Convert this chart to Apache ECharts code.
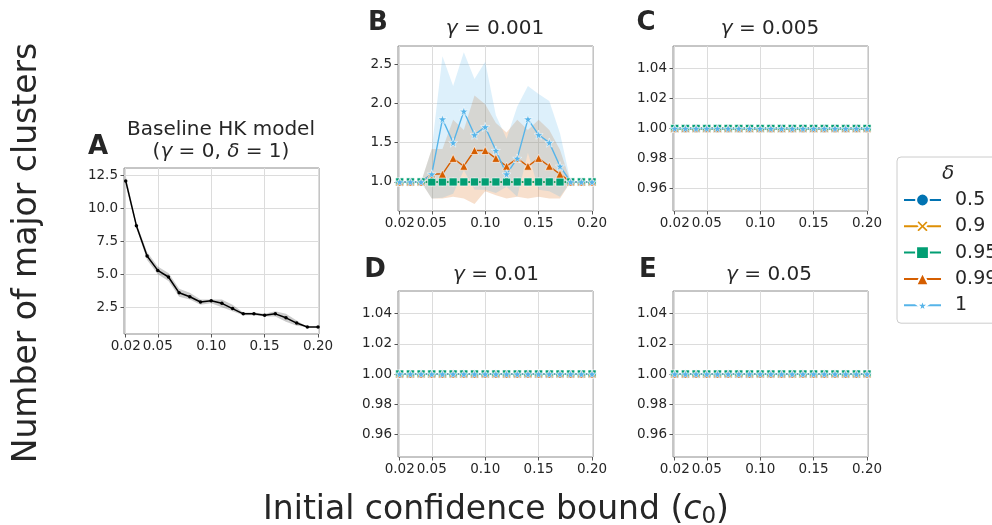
<!DOCTYPE html>
<html>
<head>
<meta charset="utf-8">
<script src="https://cdn.jsdelivr.net/npm/echarts@6/dist/echarts.min.js"></script>
<style>
  html, body { margin: 0; padding: 0; background: #fff; }
  #main { width: 992px; height: 525px; }
</style>
</head>
<body>
<div id="main"></div>
<script>
(function () {
    // x values: initial confidence bound c0
    var cValues = [0.02, 0.03, 0.04, 0.05, 0.06, 0.07, 0.08, 0.09, 0.10, 0.11,
                   0.12, 0.13, 0.14, 0.15, 0.16, 0.17, 0.18, 0.19, 0.20];
    var xTicks = [0.02, 0.05, 0.10, 0.15, 0.20];

    // panel A - baseline HK model
    var baselineMean = [12.1, 8.7, 6.4, 5.3, 4.8, 3.6, 3.3, 2.9, 3.0, 2.8, 2.4, 2.0, 2.0, 1.9, 2.0, 1.7, 1.3, 1.0, 1.0];
    var baselineLow  = [11.8, 8.5, 6.1, 5.0, 4.5, 3.3, 3.1, 2.7, 2.8, 2.5, 2.2, 1.9, 1.9, 1.8, 1.8, 1.4, 1.1, 1.0, 1.0];
    var baselineHigh = [12.5, 8.9, 6.7, 5.6, 5.1, 3.9, 3.6, 3.1, 3.1, 3.1, 2.7, 2.1, 2.1, 2.0, 2.2, 2.0, 1.5, 1.0, 1.0];
    var yTicksA = [2.5, 5.0, 7.5, 10.0, 12.5];

    // panel B - gamma = 0.001
    var gB_d099 = [1, 1, 1, 1.1, 1.1, 1.3, 1.2, 1.4, 1.4, 1.3, 1.2, 1.3, 1.2, 1.3, 1.2, 1.1, 1, 1, 1];
    var gB_d1   = [1, 1, 1, 1.1, 1.8, 1.5, 1.9, 1.6, 1.7, 1.4, 1.1, 1.3, 1.8, 1.6, 1.5, 1.2, 1, 1, 1];
    var gB_d099Low  = [1, 1, 1, 0.79, 0.79, 0.81, 0.79, 0.72, 0.88, 0.83, 0.79, 0.81, 0.79, 0.81, 0.79, 0.79, 1, 1, 1];
    var gB_d099High = [1, 1, 1, 1.42, 1.42, 1.79, 1.66, 2.10, 1.99, 1.75, 1.63, 1.79, 1.66, 1.79, 1.66, 1.41, 1, 1, 1];
    var gB_d1Low  = [1, 1, 1, 0.79, 0.80, 0.85, 1.15, 0.90, 0.90, 0.86, 0.94, 0.81, 1.37, 0.90, 0.88, 0.81, 1, 1, 1];
    var gB_d1High = [1, 1, 1, 1.42, 2.60, 2.22, 2.65, 2.31, 2.53, 1.85, 1.55, 1.96, 2.22, 2.12, 2.03, 1.62, 1, 1, 1];
    var yTicksB = [1.0, 1.5, 2.0, 2.5];

    // every delta sits at 1 cluster (and gamma=0.001 for delta<=0.95)
    var flatOnes = [1, 1, 1, 1, 1, 1, 1, 1, 1, 1, 1, 1, 1, 1, 1, 1, 1, 1, 1];
    var yTicksFlat = [0.96, 0.98, 1.00, 1.02, 1.04];

    var deltaNames = ['0.5', '0.9', '0.95', '0.99', '1'];
    var deltaColors = ['#0173b2', '#de8f05', '#029e73', '#d55e00', '#56b4e9'];
    var deltaSymbols = [
        'circle',
        'path://M0,20 L20,0 L50,30 L80,0 L100,20 L70,50 L100,80 L80,100 L50,70 L20,100 L0,80 L30,50 Z',
        'rect',
        'triangle',
        'path://M50,0 L61,35 L98,35 L68,57 L79,91 L50,70 L21,91 L32,57 L2,35 L39,35 Z'
    ];
    var deltaSizes = [8, 7, 8, 8, 9];

    var font = 'DejaVu Sans';
    var txt = '#262626';

    var grids = [
        { left: 124, top: 168, width: 195, height: 166 },  // A
        { left: 398, top: 46, width: 195, height: 165 },   // B
        { left: 673, top: 46, width: 195, height: 165 },   // C
        { left: 398, top: 291, width: 195, height: 166 },  // D
        { left: 673, top: 291, width: 195, height: 166 }   // E
    ];
    grids.forEach(function (g) {
        g.show = true;
        g.borderColor = '#8c8c8c';
        g.borderWidth = 1;
        g.backgroundColor = '#fff';
    });

    function pairs(arr) {
        return cValues.map(function (x, i) { return [x, arr[i]]; });
    }

    var xAxes = grids.map(function (g, gi) {
        return {
            type: 'value', gridIndex: gi, min: 0.0184, max: 0.2009,
            axisLine: { show: false },
            axisTick: { show: true, customValues: xTicks, length: 3.5, lineStyle: { color: '#555' } },
            axisLabel: {
                customValues: xTicks, color: txt, fontSize: 13.5, fontFamily: font, margin: 5,
                formatter: function (v) { return v.toFixed(2); }
            },
            splitLine: { show: true, lineStyle: { color: '#dcdcdc' } }
        };
    });

    function yAxis(gi, min, max, ticks, digits) {
        return {
            type: 'value', gridIndex: gi, min: min, max: max,
            axisLine: { show: false },
            axisTick: { show: true, customValues: ticks, length: 3.5, lineStyle: { color: '#555' } },
            axisLabel: {
                customValues: ticks, color: txt, fontSize: 13.5, fontFamily: font, margin: 6,
                formatter: function (v) { return v.toFixed(digits); }
            },
            splitLine: { show: true, lineStyle: { color: '#dcdcdc' } }
        };
    }
    var yAxes = [
        yAxis(0, 0.47, 13.08, yTicksA, 1),
        yAxis(1, 0.63, 2.73, yTicksB, 1),
        yAxis(2, 0.945, 1.055, yTicksFlat, 2),
        yAxis(3, 0.945, 1.055, yTicksFlat, 2),
        yAxis(4, 0.945, 1.055, yTicksFlat, 2)
    ];

    // confidence band polygon drawn through the axis scale
    function band(gi, lo, hi, color) {
        return {
            type: 'custom', name: 'band', xAxisIndex: gi, yAxisIndex: gi, silent: true, z: 1,
            data: cValues.map(function (x, i) { return [x, lo[i], hi[i]]; }),
            encode: { x: 0, y: [1, 2] },
            renderItem: function (params, api) {
                if (params.dataIndex !== 0) return null;
                var pts = [];
                for (var i = 0; i < cValues.length; i++) pts.push(api.coord([cValues[i], hi[i]]));
                for (var j = cValues.length - 1; j >= 0; j--) pts.push(api.coord([cValues[j], lo[j]]));
                return { type: 'polygon', shape: { points: pts }, style: { fill: color, opacity: 0.2 } };
            }
        };
    }

    function deltaLine(gi, k, values) {
        return {
            type: 'line', name: deltaNames[k], xAxisIndex: gi, yAxisIndex: gi, z: 3,
            data: pairs(values),
            symbol: deltaSymbols[k], symbolSize: deltaSizes[k], showAllSymbol: true,
            lineStyle: { color: deltaColors[k], width: 1.4 },
            itemStyle: { color: deltaColors[k], borderColor: '#fff', borderWidth: 0.6 },
            animation: false
        };
    }

    var series = [];
    // panel A
    series.push(band(0, baselineLow, baselineHigh, '#000'));
    series.push({
        type: 'line', name: 'baseline', xAxisIndex: 0, yAxisIndex: 0, z: 3,
        data: pairs(baselineMean), symbol: 'circle', symbolSize: 3.5,
        lineStyle: { color: '#000', width: 1.5 }, itemStyle: { color: '#000' }, animation: false
    });
    // panel B
    series.push(band(1, gB_d099Low, gB_d099High, '#d55e00'));
    series.push(band(1, gB_d1Low, gB_d1High, '#56b4e9'));
    series.push(deltaLine(1, 0, flatOnes));
    series.push(deltaLine(1, 1, flatOnes));
    series.push(deltaLine(1, 2, flatOnes));
    series.push(deltaLine(1, 3, gB_d099));
    series.push(deltaLine(1, 4, gB_d1));
    // panels C, D, E
    [2, 3, 4].forEach(function (gi) {
        for (var k = 0; k < 5; k++) series.push(deltaLine(gi, k, flatOnes));
    });

    function label(x, y, text, size, extra) {
        var s = { text: text, x: 0, y: 0, align: 'center', verticalAlign: 'middle',
                  fill: txt, fontSize: size, fontFamily: font,
                  rich: {
                      i: { fontStyle: 'italic', fontSize: size, fontFamily: font, fill: txt },
                      s: { fontSize: Math.round(size * 0.7), fontFamily: font, fill: txt, padding: [Math.round(size * 0.45), 0, 0, 0] }
                  } };
        for (var key in (extra || {})) s[key] = extra[key];
        return { type: 'text', x: x, y: y, style: s, z: 10 };
    }

    var graphics = [
        label(221, 130, 'Baseline HK model', 20),
        label(221, 152, '({i|γ} = 0, {i|δ} = 1)', 20),
        label(495, 29, '{i|γ} = 0.001', 20),
        label(770, 29, '{i|γ} = 0.005', 20),
        label(496, 275, '{i|γ} = 0.01', 20),
        label(769, 275, '{i|γ} = 0.05', 20),
        label(98, 147, 'A', 26, { fontWeight: 'bold' }),
        label(378, 23, 'B', 26, { fontWeight: 'bold' }),
        label(646, 23, 'C', 26, { fontWeight: 'bold' }),
        label(375, 270, 'D', 26, { fontWeight: 'bold' }),
        label(648, 270, 'E', 26, { fontWeight: 'bold' }),
        label(496, 510, 'Initial confidence bound ({i|c}{s|0})', 33),
        label(948, 174, '{i|δ}', 20)
    ];
    var yTitle = label(27, 253, 'Number of major clusters', 33);
    yTitle.rotation = Math.PI / 2;
    graphics.push(yTitle);

    var myChart = echarts.init(document.getElementById('main'), null, { renderer: 'canvas' });
    var option = {
        animation: false,
        backgroundColor: '#fff',
        grid: grids,
        xAxis: xAxes,
        yAxis: yAxes,
        legend: {
            data: deltaNames,
            orient: 'vertical',
            left: 897, top: 157,
            padding: [33, 40, 8, 6],
            itemWidth: 37, itemHeight: 16, itemGap: 6.3,
            borderColor: '#cccccc', borderWidth: 1, borderRadius: 4,
            backgroundColor: '#fff',
            textStyle: { fontSize: 19, lineHeight: 20, fontFamily: font, color: txt, padding: [0, 0, 0, 9] }
        },
        graphic: graphics,
        series: series
    };
    myChart.setOption(option);
})();
</script>
</body>
</html>
